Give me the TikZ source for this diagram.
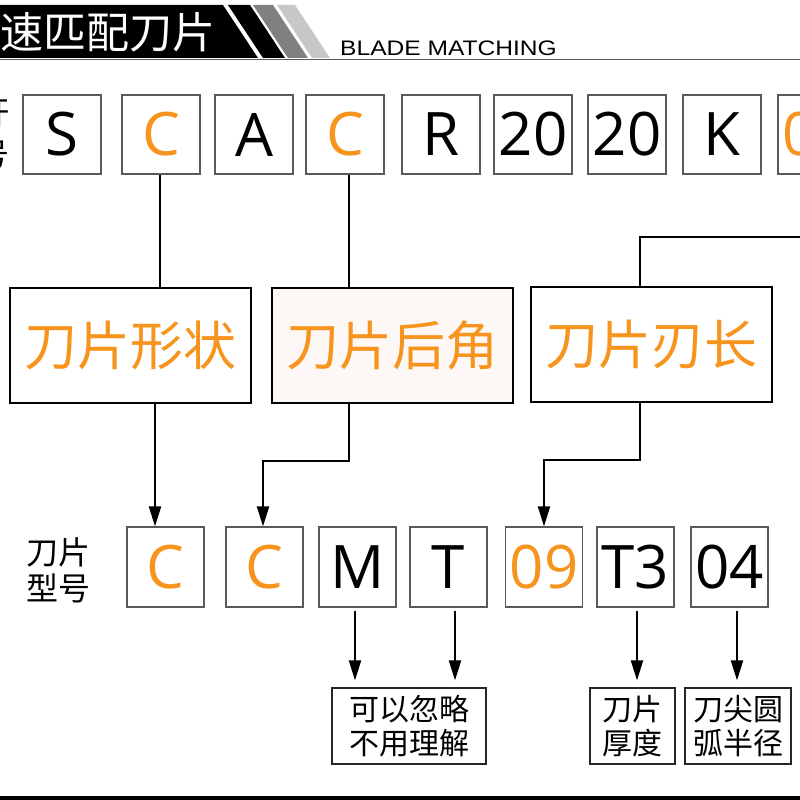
\documentclass[tikz,border=0pt]{standalone}
\usepackage{fontspec}
\setmainfont{Open Sans}
\newfontfamily\cjk{Noto Sans CJK SC}
\newfontfamily\headfont{Liberation Sans}
\usetikzlibrary{arrows.meta}
\definecolor{codeorange}{RGB}{247,148,29}
\definecolor{boxgray}{RGB}{90,90,90}
\definecolor{reliefpink}{RGB}{253,248,246}

\begin{document}
\begin{tikzpicture}[x=1pt, y=-1pt,
  codebox/.style={draw=boxgray, line width=1.2pt, minimum width=78pt,
    minimum height=79pt, inner sep=0pt, font=\fontsize{60}{60}\selectfont},
  hi/.style={text=codeorange},
  bigbox/.style={draw, line width=2pt, minimum width=241pt, minimum height=115pt,
    inner sep=0pt, text=codeorange, font=\cjk\fontsize{53}{53}\selectfont},
  notebox/.style={draw=black!85, line width=1.2pt, minimum height=76pt, inner sep=0pt,
    align=center, font=\cjk\fontsize{30}{34}\selectfont},
  link/.style={line width=2pt},
  arrow/.style={link, -{Triangle[length=20pt, width=12pt]}}]

  \useasboundingbox (0,0) rectangle (800,800);
  \clip (0,0) rectangle (800,800);

  % === Header band ===
  \fill[black] (0,5) -- (223,5) -- (258,58) -- (0,58) -- cycle;
  \fill[black] (228,5) -- (250,5) -- (285,58) -- (263,58) -- cycle;
  \fill[black!50] (253,5) -- (273,5) -- (308,58) -- (288,58) -- cycle;
  \fill[black!22] (277,5) -- (295,5) -- (330,58) -- (312,58) -- cycle;
  \draw[boxgray, line width=1.2pt] (0,59.5) -- (800,59.5);
  \node[anchor=west, inner sep=0pt, text=white, font=\cjk\fontsize{43}{43}\selectfont]
    (title) at (0,32) {速匹配刀片};
  \node[anchor=base west, inner sep=0pt, xscale=1.17, font=\headfont\fontsize{21}{21}\selectfont]
    (subtitle) at (340,56) {BLADE MATCHING};

  % === Holder code (cut at the left edge) ===
  \node[anchor=east, inner sep=0pt, font=\cjk\fontsize{32}{32}\selectfont] (hlabA) at (10,112) {杆};
  \node[anchor=east, inner sep=0pt, font=\cjk\fontsize{32}{32}\selectfont] (hlabB) at (10,155) {号};

  \node[codebox] (hs)   at (62,134.5)  {S};
  \node[codebox, hi] (hc) at (161,134.5) {C};
  \node[codebox] (ha)   at (254,134.5) {A};
  \node[codebox, hi] (hc2) at (345,134.5) {C};
  \node[codebox] (hr)   at (441,134.5) {R};
  \node[codebox] (hh)   at (533,134.5) {20};
  \node[codebox] (hw)   at (627,134.5) {20};
  \node[codebox] (hk)   at (722,134.5) {K};
  \node[codebox, hi] (hl) at (817,134.5) {09};

  % === Meaning boxes ===
  \node[bigbox] (shape)  at (130.5,345.5) {刀片形状};
  \node[bigbox, fill=reliefpink] (relief) at (392,345.5) {刀片后角};
  \node[bigbox] (length) at (651.5,344) {刀片刃长};

  % === Insert code ===
  \node[align=center, inner sep=0pt, font=\cjk\fontsize{32}{36}\selectfont]
    (ilabel) at (59,570) {刀片\\型号};
  \node[codebox, minimum width=77pt, minimum height=80pt, hi] (ic)  at (165.5,567) {C};
  \node[codebox, minimum width=77pt, minimum height=80pt, hi] (ic2) at (264.5,567) {C};
  \node[codebox, minimum width=77pt, minimum height=80pt] (im)  at (357.5,567) {M};
  \node[codebox, minimum width=77pt, minimum height=80pt] (it)  at (448.5,567) {T};
  \node[codebox, minimum width=77pt, minimum height=80pt, hi] (il) at (544,567) {09};
  \node[codebox, minimum width=77pt, minimum height=80pt] (is)  at (635.5,567) {T3};
  \node[codebox, minimum width=77pt, minimum height=80pt] (ir)  at (729.5,567) {04};

  % === Notes ===
  \node[notebox, minimum width=154pt] (ignore) at (409,726) {可以忽略\\不用理解};
  \node[notebox, minimum width=85pt]  (thick)  at (632.5,726) {刀片\\厚度};
  \node[notebox, minimum width=106pt] (radius) at (738,726) {刀尖圆\\弧半径};

  % === Connectors: holder -> meaning ===
  \coordinate (rightedge) at (800,237);
  \draw[link] ([xshift=-1pt]hc.south) -- ([xshift=29.5pt]shape.north);
  \draw[link] ([xshift=4pt]hc2.south) -- ([xshift=-43pt]relief.north);
  \draw[link] ([xshift=-11.5pt]length.north) |- (rightedge);

  % === Connectors: meaning -> insert ===
  \draw[arrow] ([xshift=24.5pt]shape.south) -- ([xshift=-10.5pt]ic.north);
  \draw[arrow] ([xshift=-43pt]relief.south) -- ++(0,57) -| ([xshift=-1.5pt]ic2.north);
  \draw[arrow] ([xshift=-11.5pt]length.south) -- ++(0,57) -| (il.north);

  % === Connectors: insert -> notes ===
  \draw[arrow, shorten <=3pt, shorten >=7pt] ([xshift=-2.5pt]im.south) -- ([xshift=-54pt]ignore.north);
  \draw[arrow, shorten <=3pt, shorten >=7pt] ([xshift=6.5pt]it.south) -- ([xshift=46pt]ignore.north);
  \draw[arrow, shorten <=3pt, shorten >=7pt] ([xshift=1.5pt]is.south) -- ([xshift=4.5pt]thick.north);
  \draw[arrow, shorten <=3pt, shorten >=7pt] ([xshift=7.5pt]ir.south) -- ([xshift=-1pt]radius.north);

  % === Bottom bar ===
  \fill[black] (0,796) rectangle (800,800);

\end{tikzpicture}
\end{document}
